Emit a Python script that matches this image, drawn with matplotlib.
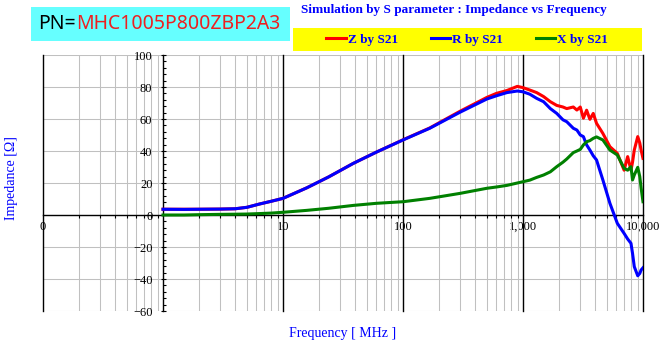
import matplotlib
matplotlib.use("Agg")
import matplotlib.pyplot as plt
from matplotlib.patches import Rectangle
from matplotlib.ticker import FixedLocator, FixedFormatter, NullFormatter, MultipleLocator

# ---- data: impedance from S21 simulation ----
freq_mhz = [1, 1.5, 2, 3, 4, 5, 6.4, 8, 10, 15.8, 24, 38.6, 60, 100, 167, 298,
            500, 600, 734, 897, 1000, 1140, 1300, 1485, 1690, 1910, 2152, 2315,
            2626, 2812, 3000, 3186, 3390, 3610, 3850, 4100, 4630, 5300, 6110,
            6960, 7450, 7940, 8180, 8460, 9040, 9400, 9640, 10000]

z_s21 = [3.6, 3.6, 3.6, 3.7, 3.9, 4.8, 6.9, 8.6, 10.4, 17.0, 23.8, 32.3, 39.3,
         47.0, 54.4, 64.8, 73.5, 76.0, 77.8, 80.4, 79.6, 78.1, 76.5, 74.0,
         70.8, 68.5, 67.5, 66.5, 67.5, 65.6, 67.5, 60.5, 65.5, 59.8, 63.5,
         57.3, 51.0, 42.7, 38.5, 28.0, 36.5, 28.0, 33.0, 40.6, 49.0, 45.0,
         40.6, 35.4]

r_s21 = [3.6, 3.5, 3.6, 3.7, 3.9, 4.8, 6.9, 8.6, 10.4, 17.0, 23.8, 32.3, 39.3,
         46.9, 54.2, 64.2, 72.5, 74.5, 76.5, 77.5, 77.0, 75.5, 72.9, 70.8,
         66.5, 63.5, 59.5, 58.3, 54.2, 53.1, 50.0, 49.0, 43.8, 40.6, 37.0,
         34.4, 21.9, 7.3, -5.2, -11.5, -15.0, -17.7, -24.0, -32.3, -38.0,
         -36.5, -34.4, -33.0]

x_s21 = [0.0, 0.0, 0.2, 0.4, 0.5, 0.6, 0.9, 1.2, 1.7, 2.9, 4.2, 6.0, 7.3, 8.3,
         10.4, 13.5, 16.7, 17.5, 18.5, 20.0, 20.8, 21.8, 23.5, 25.0, 27.0,
         30.2, 33.0, 35.0, 39.0, 40.0, 41.0, 43.8, 45.8, 46.5, 47.9, 48.8,
         46.9, 40.6, 37.5, 29.2, 28.0, 30.2, 21.9, 25.0, 29.8, 24.0, 17.0, 8.3]

x_tick_values = [0.1, 1, 10, 100, 1000, 10000]
x_tick_labels = ["0", "", "10", "100", "1,000", "10,000"]
y_tick_values = [-60, -40, -20, 0, 20, 40, 60, 80, 100]

plt.rcParams["font.family"] = ["Liberation Serif", "DejaVu Serif"]

W, H = 659, 345
fig = plt.figure(figsize=(W / 100, H / 100), dpi=100)
fig.patch.set_facecolor("white")


def fx(px):
    return px / W


def fy(py):
    return 1 - py / H


ax = fig.add_axes([fx(43), fy(311), 600 / W, 256 / H])
ax.set_xscale("log")
ax.set_xlim(0.1, 10000)
ax.set_ylim(-60, 100)
ax.set_axisbelow(True)

grid_color = "#C0C0C0"
minor_positions = [m * 10.0 ** e for e in range(-1, 4) for m in range(2, 10)]
ax.xaxis.set_major_locator(FixedLocator(x_tick_values))
ax.xaxis.set_major_formatter(FixedFormatter(x_tick_labels))
ax.xaxis.set_minor_locator(FixedLocator(minor_positions))
ax.xaxis.set_minor_formatter(NullFormatter())
ax.yaxis.set_major_locator(FixedLocator(y_tick_values))
ax.yaxis.set_minor_locator(MultipleLocator(4))

ax.grid(True, which="both", axis="x", color=grid_color, lw=0.75)
ax.grid(True, which="major", axis="y", color=grid_color, lw=0.75)

# black decade lines
for d in x_tick_values:
    if d != 1:
        ax.axvline(d, color="black", lw=1.0, clip_on=False, zorder=1.5)

# axes crossing at f = 1 MHz and Z = 0
for s in ("top", "right"):
    ax.spines[s].set_visible(False)
ax.spines["left"].set_position(("data", 1))
ax.spines["bottom"].set_position(("data", 0))
for s in ("left", "bottom"):
    ax.spines[s].set_color("black")
    ax.spines[s].set_linewidth(1.0)
    ax.spines[s].set_zorder(1.6)

ax.tick_params(axis="y", which="major", direction="inout", length=3.6,
               width=0.8, pad=5.8, labelsize=9)
ax.tick_params(axis="y", which="minor", direction="in", length=2.0, width=0.8)
ax.tick_params(axis="x", which="major", direction="out", length=0,
               pad=4.0, labelsize=9)
ax.tick_params(axis="x", which="minor", direction="out", length=2.2, width=0.8)

lz, = ax.plot(freq_mhz, z_s21, color="#FF0000", lw=2.2, zorder=3,
              label="Z by S21", solid_joinstyle="round")
lr, = ax.plot(freq_mhz, r_s21, color="#0000FF", lw=2.2, zorder=3.1,
              label="R by S21", solid_joinstyle="round")
lx, = ax.plot(freq_mhz, x_s21, color="#008000", lw=2.2, zorder=3.2,
              label="X by S21", solid_joinstyle="round")

# axis titles
fig.text(fx(12), fy(178), "Impedance [\u03a9]", rotation=90, ha="center",
         va="center", color="#0000FF", fontsize=10)
fig.text(fx(343), fy(333), "Frequency [ MHz ]", ha="center", va="center",
         color="#0000FF", fontsize=10)

# chart title
fig.text(fx(454), fy(10), "Simulation by S parameter : Impedance vs Frequency",
         ha="center", va="center", color="#0000FF", fontsize=9.5,
         fontweight="bold")

# legend on a yellow band
fig.add_artist(Rectangle((fx(293), fy(51)), (642 - 293) / W, 23 / H,
                         transform=fig.transFigure, facecolor="#FFFF00",
                         edgecolor="none", zorder=0))
fig.legend(handles=[lz, lr, lx], loc="center",
           bbox_to_anchor=(fx(467), fy(40)), ncol=3, frameon=False,
           handlelength=1.5, handletextpad=0.1, columnspacing=2.5,
           borderpad=0.2,
           prop=dict(family="Liberation Serif", weight="bold", size=9.5),
           labelcolor="#0000FF")

# part number badge
fig.add_artist(Rectangle((fx(31), fy(41)), 259 / W, 34 / H,
                         transform=fig.transFigure, facecolor="#66FFFF",
                         edgecolor="none", zorder=0))
t1 = fig.text(fx(38), fy(24), "PN=", ha="left", va="center", color="black",
              fontsize=14.0, family="Noto Sans")
fig.canvas.draw()
bb = t1.get_window_extent()
fig.text(bb.x1 / W, fy(24), "MHC1005P800ZBP2A3", ha="left", va="center",
         color="#EE2020", fontsize=14.0, family="Noto Sans")

fig.savefig("out.png", dpi=100, facecolor="white")
